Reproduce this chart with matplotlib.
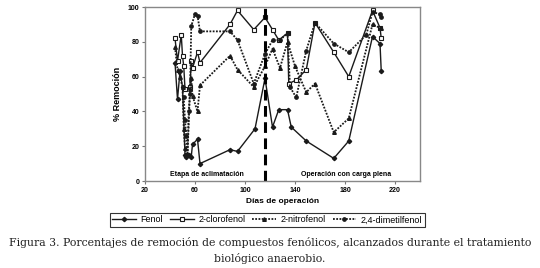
import numpy as np
import matplotlib
matplotlib.use("Agg")
import matplotlib.pyplot as plt

# ---- data ----
fenol_x = [44, 46, 48, 50, 52, 53, 55, 57, 58, 62, 64, 88, 94, 108, 116, 122, 127, 134, 137, 149, 171, 183, 202, 208, 209]
fenol_y = [68, 47, 63, 54, 15, 14, 15, 14, 21, 24, 10, 18, 17, 30, 59, 31, 41, 41, 31, 23, 13, 23, 83, 79, 63]

cloro_x = [44, 46, 49, 50, 51, 52, 56, 57, 58, 62, 64, 88, 94, 107, 116, 122, 127, 134, 135, 141, 149, 156, 171, 183, 202, 208, 209]
cloro_y = [82, 69, 84, 72, 66, 53, 54, 69, 65, 74, 68, 90, 98, 87, 94, 87, 81, 85, 56, 58, 64, 91, 74, 60, 98, 88, 82]

nitro_x = [44, 46, 48, 50, 51, 52, 53, 54, 56, 57, 58, 62, 64, 88, 94, 107, 116, 122, 128, 134, 140, 149, 156, 171, 183, 202, 208, 209]
nitro_y = [77, 64, 60, 54, 30, 19, 15, 15, 53, 59, 49, 40, 55, 72, 64, 54, 66, 76, 65, 80, 66, 51, 56, 28, 36, 90, 88, 88]

dimet_x = [51, 52, 53, 54, 55, 56, 57, 60, 62, 64, 88, 94, 107, 116, 122, 128, 134, 136, 141, 149, 156, 171, 183, 197, 202, 208, 209]
dimet_y = [48, 35, 26, 15, 40, 50, 89, 96, 95, 86, 86, 81, 56, 73, 81, 81, 85, 54, 48, 75, 91, 79, 74, 84, 97, 96, 94]

series_labels = ["Fenol", "2-clorofenol", "2-nitrofenol", "2,4-dimetilfenol"]
x_ticks = [20, 60, 100, 140, 180, 220]
y_ticks = [0, 20, 40, 60, 80, 100]
stage_change_day = 116

plt.rcParams['font.family'] = ['Liberation Sans', 'DejaVu Sans']

fig = plt.figure(figsize=(5.4, 2.68), dpi=100)
ax = fig.add_axes([145/540, 1-181/268, 275/540, 174/268])

ink = "#1a1a1a"
ax.plot(fenol_x, fenol_y, color=ink, lw=1.0, marker="D", ms=2.2, label=series_labels[0])
ax.plot(cloro_x, cloro_y, color=ink, lw=1.0, marker="s", ms=2.6, mfc="white", mew=0.8, label=series_labels[1])
ax.plot(nitro_x, nitro_y, color=ink, lw=1.3, ls=(0, (1, 0.8)), marker="^", ms=2.6, label=series_labels[2])
ax.plot(dimet_x, dimet_y, color=ink, lw=1.3, ls=(0, (1, 0.8)), marker="o", ms=2.4, label=series_labels[3])

ax.axvline(stage_change_day, color="black", lw=2.2, ls=(0, (3.5, 1.8)))

ax.text(40, 4, "Etapa de aclimatación", fontsize=5, fontweight="bold", va="center")
ax.text(145, 4, "Operación con carga plena", fontsize=5, fontweight="bold", va="center")

ax.set_xlim(20, 240)
ax.set_ylim(0, 100)
ax.set_xticks(x_ticks)
ax.set_yticks(y_ticks)
ax.tick_params(labelsize=5, length=2, width=0.8, color="#777777", pad=2)
for lab in ax.get_xticklabels() + ax.get_yticklabels():
    lab.set_fontweight("bold")
for sp in ax.spines.values():
    sp.set_color("#888888")
    sp.set_linewidth(1.0)

ax.set_xlabel("Días de operación", fontsize=6, fontweight="bold", labelpad=3)
ax.set_ylabel("% Remoción", fontsize=6.5, fontweight="bold", labelpad=4)

leg = fig.legend(loc="center", bbox_to_anchor=(0.495, 1-220/268), ncol=4, fontsize=6.5,
                 frameon=True, fancybox=False, edgecolor="black", handlelength=2.6,
                 columnspacing=0.8, handletextpad=0.5, borderpad=0.3)
leg.get_frame().set_linewidth(0.8)

fig.text(0.5, 1-243/268, "Figura 3. Porcentajes de remoción de compuestos fenólicos, alcanzados durante el tratamiento",
         ha="center", va="center", fontsize=7.8, family="DejaVu Serif", color="#222222")
fig.text(0.5, 1-258/268, "biológico anaerobio.", ha="center", va="center", fontsize=7.8,
         family="DejaVu Serif", color="#222222")

fig.savefig("out.png", dpi=100)
